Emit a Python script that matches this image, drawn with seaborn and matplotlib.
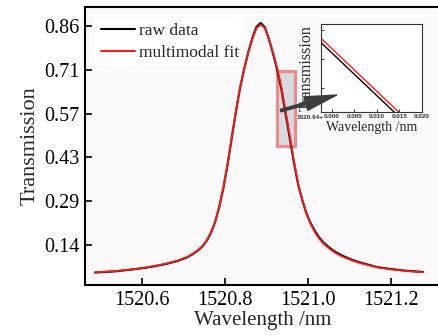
import matplotlib
matplotlib.use('Agg')
import numpy as np
import pandas as pd
import seaborn as sns
import matplotlib.pyplot as plt
from matplotlib.patches import Rectangle

# ---------------- data ----------------
wavelength = [1520.487, 1520.536, 1520.576, 1520.606, 1520.636, 1520.661, 1520.686,
              1520.706, 1520.721, 1520.736, 1520.746, 1520.756, 1520.766, 1520.776,
              1520.786, 1520.796, 1520.806, 1520.816, 1520.826, 1520.836, 1520.846,
              1520.856, 1520.866, 1520.876, 1520.886,
              1520.896, 1520.906, 1520.916, 1520.926, 1520.936, 1520.946, 1520.956,
              1520.966, 1520.976, 1520.986, 1520.996, 1521.006, 1521.016, 1521.026,
              1521.036, 1521.051, 1521.066, 1521.086, 1521.111, 1521.136, 1521.166,
              1521.196, 1521.236, 1521.277]
multimodal_fit = [0.054, 0.058, 0.063, 0.069, 0.076, 0.083, 0.092,
                  0.102, 0.113, 0.127, 0.140, 0.158, 0.183, 0.218,
                  0.268, 0.330, 0.405, 0.492, 0.577, 0.655, 0.716,
                  0.770, 0.815, 0.850, 0.862,
                  0.850, 0.814, 0.769, 0.717, 0.658, 0.579, 0.500,
                  0.418, 0.345, 0.290, 0.245, 0.212, 0.186, 0.165,
                  0.149, 0.131, 0.117, 0.103, 0.090, 0.080, 0.070,
                  0.064, 0.058, 0.054]
raw_data = [0.053, 0.057, 0.063, 0.068, 0.075, 0.082, 0.091,
            0.101, 0.112, 0.126, 0.139, 0.157, 0.182, 0.217,
            0.266, 0.328, 0.403, 0.490, 0.575, 0.653, 0.716,
            0.771, 0.818, 0.855, 0.867,
            0.853, 0.814, 0.766, 0.712, 0.650, 0.571, 0.492,
            0.412, 0.342, 0.290, 0.247, 0.215, 0.190, 0.169,
            0.153, 0.135, 0.120, 0.106, 0.092, 0.082, 0.071,
            0.065, 0.059, 0.055]

x_ticks = [1520.6, 1520.8, 1521.0, 1521.2]
x_tick_labels = ['1520.6', '1520.8', '1521.0', '1521.2']
y_ticks = [0.1429, 0.2857, 0.4286, 0.5714, 0.7143, 0.8571]
y_tick_labels = ['0.14', '0.29', '0.43', '0.57', '0.71', '0.86']

inset_x_ticks = [1520.940, 1520.945, 1520.950, 1520.955, 1520.960]
inset_x_labels = ['0.000', '0.005', '0.010', '0.015', '0.020']
inset_y_ticks = [0.553, 0.607, 0.661]
inset_offset_label = '1520.94+'

zoom_box_x = [1520.9246, 1520.9687]
zoom_box_y = [0.4658, 0.7114]
arrow_from = (1520.934, 0.581)
arrow_to = (1521.069, 0.632)

df = pd.DataFrame({'wavelength': wavelength, 'raw': raw_data, 'fit': multimodal_fit})

# ---------------- figure ----------------
sns.set_theme(style='ticks')
plt.rcParams['font.family'] = ['Liberation Serif', 'DejaVu Serif']
plt.rcParams['mathtext.fontset'] = 'dejavuserif'

fig = plt.figure(figsize=(4.38, 3.36), dpi=100)
fig.patch.set_facecolor('white')
ax = fig.add_axes([85 / 438, 51 / 336, 355 / 438, 278 / 336])
ax.set_facecolor('#fafafa')

sns.lineplot(data=df, x='wavelength', y='raw', ax=ax, color='black', lw=1.5,
             estimator=None, label='raw data', zorder=3)
sns.lineplot(data=df, x='wavelength', y='fit', ax=ax, color='#ff1a1a', lw=1.3,
             estimator=None, label='multimodal fit', zorder=4)

ax.add_patch(Rectangle((zoom_box_x[0], zoom_box_y[0]), zoom_box_x[1] - zoom_box_x[0],
                       zoom_box_y[1] - zoom_box_y[0], facecolor='#d8d9dc',
                       edgecolor='#f08a8a', lw=2.2, zorder=2))

ax.set_xlim(1520.4627, 1521.318)
ax.set_ylim(0.0124, 0.919)
ax.set_xticks(x_ticks)
ax.set_xticklabels(x_tick_labels)
ax.set_yticks(y_ticks)
ax.set_yticklabels(y_tick_labels)
ax.tick_params(direction='in', length=5, width=1.2, labelsize=14.5, pad=4, colors='black')
ax.set_xlabel('Wavelength /nm', fontsize=15, labelpad=1)
ax.set_ylabel('Transmission', fontsize=16, labelpad=3)
for s in ['left', 'bottom', 'top']:
    ax.spines[s].set_linewidth(1.5)
    ax.spines[s].set_color('black')
ax.spines['right'].set_visible(False)

leg = ax.legend(loc='upper left', fontsize=12.5, frameon=True, facecolor='white',
                edgecolor='none', framealpha=1, handlelength=2.0, handletextpad=0.2,
                borderaxespad=0.6, labelspacing=0.35, borderpad=0.3)
for line in leg.get_lines():
    line.set_linewidth(1.5)

# ---------------- inset ----------------
axi = fig.add_axes([320.7 / 438, (336 - 111.7) / 336, 101.3 / 438, 87.7 / 336])
axi.set_facecolor('white')
sns.lineplot(data=df, x='wavelength', y='raw', ax=axi, color='black', lw=1.0,
             estimator=None, legend=False)
sns.lineplot(data=df, x='wavelength', y='fit', ax=axi, color='#ff1a1a', lw=1.0,
             estimator=None, legend=False)
axi.set_xlim(1520.9375, 1520.960)
axi.set_ylim(0.510, 0.672)
axi.set_xticks(inset_x_ticks)
axi.set_xticklabels(inset_x_labels, fontsize=4.6, family='Liberation Sans', fontweight='bold')
axi.set_yticks(inset_y_ticks)
axi.set_yticklabels([])
axi.tick_params(direction='in', length=2, width=0.7, pad=1.5, colors='#333333')
axi.text(-0.105, -0.062, inset_offset_label, transform=axi.transAxes, ha='center', va='center',
         fontsize=4.6, family='Liberation Sans', fontweight='bold', color='#333333')
axi.set_xlabel('Wavelength /nm', fontsize=10, labelpad=1.5)
axi.set_ylabel('Transmission', fontsize=11.5, labelpad=3)
for s in axi.spines.values():
    s.set_linewidth(0.8)
    s.set_color('#333333')

axi.annotate('', xy=arrow_to, xycoords=ax.transData, xytext=arrow_from,
             textcoords=ax.transData, annotation_clip=False,
             arrowprops=dict(arrowstyle='simple,head_length=1.15,head_width=0.5,tail_width=0.09',
                             mutation_scale=20, color='#3c3c3c', shrinkA=0, shrinkB=0))

fig.savefig('out.png', dpi=100, facecolor='white')
